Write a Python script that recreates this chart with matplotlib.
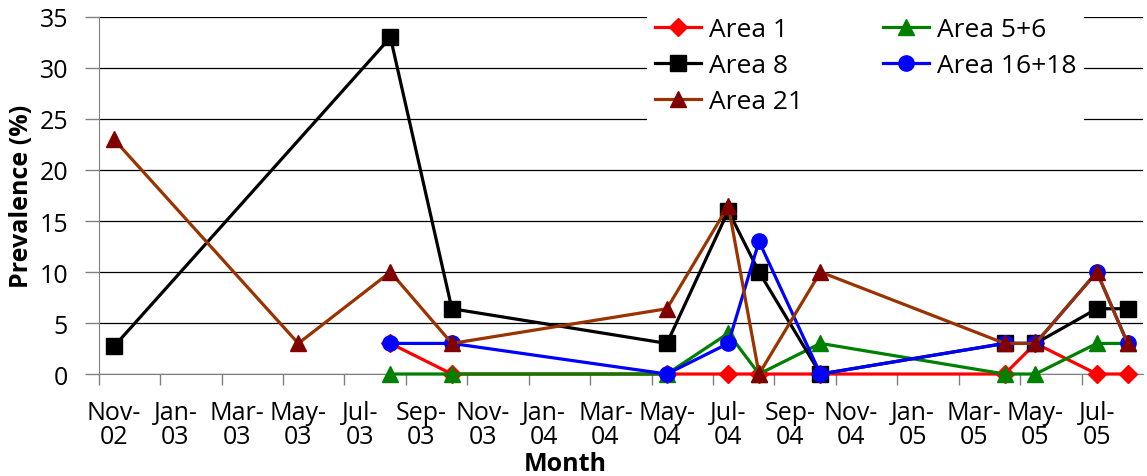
import numpy as np
import matplotlib
matplotlib.use('Agg')
import matplotlib.pyplot as plt

# Sampling months and prevalence (%) per area; NaN = not sampled
sample_months = ['Nov-02', 'May-03', 'Aug-03', 'Oct-03', 'May-04', 'Jul-04',
                 'Aug-04', 'Oct-04', 'Apr-05', 'May-05', 'Jul-05', 'Aug-05']
nan = np.nan
area_1 = [nan, nan, 3.0, 0, 0, 0, 0, 0, 0, 3.0, 0, 0]
area_5_6 = [nan, nan, 0, 0, 0, 4.0, 0, 3.0, 0, 0, 3.0, 3.0]
area_8 = [2.7, nan, 33.0, 6.4, 3.0, 16.0, 10.0, 0, 3.0, 3.0, 6.4, 6.4]
area_16_18 = [nan, nan, 3.0, 3.0, 0, 3.0, 13.0, 0, 3.0, 3.0, 10.0, 3.0]
area_21 = [23.0, 3.0, 10.0, 3.0, 6.4, 16.5, 0, 10.0, 3.0, 3.0, 10.0, 3.0]

tick_months = ['Nov-02', 'Jan-03', 'Mar-03', 'May-03', 'Jul-03', 'Sep-03',
               'Nov-03', 'Jan-04', 'Mar-04', 'May-04', 'Jul-04', 'Sep-04',
               'Nov-04', 'Jan-05', 'Mar-05', 'May-05', 'Jul-05']

MONTHS = ['Jan', 'Feb', 'Mar', 'Apr', 'May', 'Jun',
          'Jul', 'Aug', 'Sep', 'Oct', 'Nov', 'Dec']


# Month index counted from Nov-02
def month_index(label):
    mon, yy = label.split('-')
    return (int(yy) - 2) * 12 + MONTHS.index(mon) - 10


plt.rcParams['font.family'] = ['Open Sans', 'DejaVu Sans']
plt.rcParams['font.size'] = 18

fig = plt.figure(figsize=(11.47, 4.77), dpi=100)
ax = fig.add_axes([0.086, 0.2138, 0.9105, 0.7485])

# each month is a bin, points sit in the middle of their bin
x = np.array([month_index(m) for m in sample_months]) + 0.5

series = [
    ('Area 1', area_1, '#ff0000', '#ff0000', 'D', 9),
    ('Area 5+6', area_5_6, '#008000', '#008000', '^', 12),
    ('Area 8', area_8, '#000000', '#000000', 's', 11),
    ('Area 16+18', area_16_18, '#0000ff', '#0000ff', 'o', 11),
    ('Area 21', area_21, '#993300', '#800000', '^', 12),
]
handles = {}
for name, vals, lc, mc, mk, ms in series:
    v = np.array(vals, dtype=float)
    ok = ~np.isnan(v)
    h, = ax.plot(x[ok], v[ok], color=lc, lw=2.3, marker=mk, ms=ms,
                 markerfacecolor=mc, markeredgecolor=mc, label=name,
                 clip_on=False, zorder=3)
    handles[name] = h

ax.set_xlim(0, 34)
ax.set_ylim(0, 35)
ax.set_yticks(range(0, 36, 5))
ax.yaxis.grid(True, color='black', lw=0.9)
ax.set_axisbelow(True)

# tick marks on bin edges, labels centred in the bin
edges = [month_index(m) for m in tick_months]
ax.set_xticks(edges)
ax.set_xticklabels([])
ax.set_xticks([e + 0.5 for e in edges], minor=True)
ax.set_xticklabels([m.replace('-', '-\n') for m in tick_months], minor=True,
                   linespacing=0.95)
ax.tick_params(axis='x', which='minor', length=0, pad=19)
ax.tick_params(axis='x', which='major', length=8, width=1, color='#808080',
               direction='out')
ax.tick_params(axis='y', length=10, width=1, color='#808080', pad=12)

for s in ['top', 'right']:
    ax.spines[s].set_visible(False)
ax.spines['left'].set_color('#808080')
ax.spines['bottom'].set_color('#808080')

ax.set_ylabel('Prevalence (%)', fontweight='bold', labelpad=4)
fig.text(565 / 1147, 1 - 465 / 477, 'Month', fontweight='bold',
         ha='center', va='center')

order = ['Area 1', 'Area 8', 'Area 21', 'Area 5+6', 'Area 16+18']
leg = fig.legend([handles[n] for n in order], order, ncol=2,
                 loc='upper left', bbox_to_anchor=(634 / 1147, 1.006),
                 frameon=True, facecolor='white', edgecolor='none',
                 framealpha=1, fancybox=False, fontsize=19,
                 handlelength=1.75, handletextpad=0.3, columnspacing=3.0,
                 labelspacing=0.42, borderpad=0.3)

fig.savefig('out.png', dpi=100)
